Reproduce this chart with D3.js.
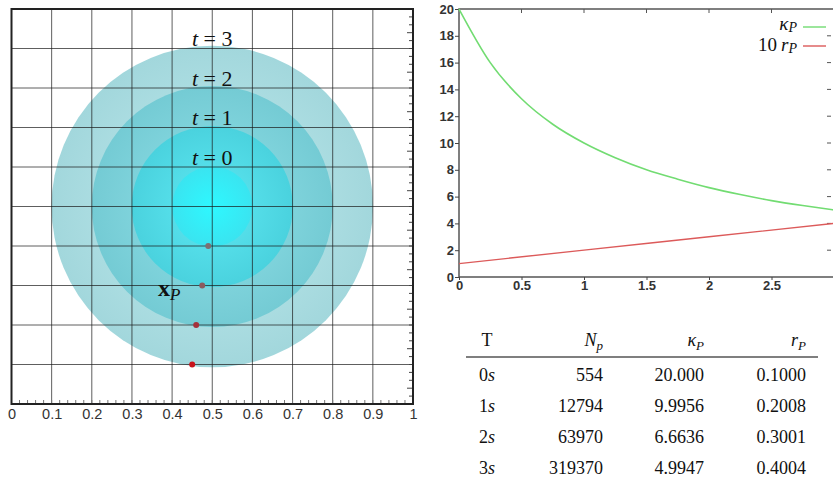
<!DOCTYPE html>
<html>
<head>
<meta charset="utf-8">
<script src="https://cdn.jsdelivr.net/npm/d3@7"></script>
<style>
  body { margin: 0; background: #fff; }
  svg { display: block; }
  .tick text { font-family: "Liberation Sans", Arial, sans-serif; }
  .math { font-family: "Liberation Serif", "DejaVu Serif", serif; fill: #111; }
</style>
</head>
<body>
<div id="container"></div>
<script>
const width = 833;
const height = 480;

// table values (also used for the circle radii)
const times = [0, 1, 2, 3];
const particles = [554, 12794, 63970, 319370];
const kappa = [20.000, 9.9956, 6.6636, 4.9947];
const radius = [0.1000, 0.2008, 0.3001, 0.4004];

// tracked point x_P at each time
const pointX = [0.49, 0.475, 0.46, 0.45];
const pointY = [0.40, 0.30, 0.20, 0.10];
const pointColors = ["#7d7072", "#8c5a5e", "#a4323c", "#c8141c"];

// curves in the right panel
const curveT = [0, 0.25, 0.5, 0.75, 1, 1.25, 1.5, 1.75, 2, 2.25, 2.5, 2.75, 3];
const kappaCurve = [20, 16, 13.3, 11.4, 10, 8.9, 8, 7.3, 6.67, 6.15, 5.7, 5.33, 5.0];
const rCurveT = [0, 1, 2, 3];
const rCurve = [1.0, 2.008, 3.001, 4.004];

const circleFills = [
  ["#2ef8ff", "#3ae4f0"],
  ["#5ee9f3", "#4ad2de"],
  ["#92e1e8", "#74cbd4"],
  ["#c2ebee", "#a2d7dc"]
];

const svg = d3.select("#container")
              .append("svg")
              .attr("width", width)
              .attr("height", height);
const defs = svg.append("defs");

// ---------- left panel ----------
const xL = d3.scaleLinear().domain([0, 1]).range([11.5, 413]);
const yL = d3.scaleLinear().domain([0, 1]).range([404, 9]);
const left = svg.append("g");

circleFills.forEach((c, i) => {
  const g = defs.append("radialGradient").attr("id", "grad" + i);
  g.append("stop").attr("offset", "0%").attr("stop-color", c[0]);
  g.append("stop").attr("offset", "100%").attr("stop-color", c[1]);
});

left.append("g")
    .selectAll("circle")
    .data(radius.map((r, i) => ({r: r, i: i})).reverse())
    .enter()
    .append("circle")
    .attr("cx", xL(0.5))
    .attr("cy", yL(0.5))
    .attr("r", d => xL(d.r) - xL(0))
    .style("fill", d => "url(#grad" + d.i + ")");

const grid = left.append("g").attr("stroke", "#1a1a1a").attr("stroke-opacity", 0.7).attr("stroke-width", 1);
grid.selectAll(".gx")
    .data(xL.ticks(10).slice(1, -1))
    .enter()
    .append("line")
    .attr("x1", d => xL(d)).attr("x2", d => xL(d))
    .attr("y1", yL(1)).attr("y2", yL(0));
grid.selectAll(".gy")
    .data(yL.ticks(10).slice(1, -1))
    .enter()
    .append("line")
    .attr("y1", d => yL(d)).attr("y2", d => yL(d))
    .attr("x1", xL(0)).attr("x2", xL(1));

// minor ticks, bottom (pointing up) and right (pointing left)
left.append("g").attr("stroke", "#777")
    .selectAll("line")
    .data(xL.ticks(50))
    .enter()
    .append("line")
    .attr("x1", d => xL(d)).attr("x2", d => xL(d))
    .attr("y1", yL(0)).attr("y2", yL(0) - 4);
left.append("g").attr("stroke", "#444")
    .selectAll("line")
    .data(yL.ticks(50))
    .enter()
    .append("line")
    .attr("y1", d => yL(d)).attr("y2", d => yL(d))
    .attr("x1", xL(1)).attr("x2", (d, i) => xL(1) - (i % 5 === 2 ? 6 : 4));

left.append("rect")
    .attr("x", xL(0)).attr("y", yL(1))
    .attr("width", xL(1) - xL(0)).attr("height", yL(0) - yL(1))
    .attr("fill", "none").attr("stroke", "#222").attr("stroke-width", 2);

const xAxisL = d3.axisBottom(xL).ticks(10).tickSize(0).tickPadding(5).tickFormat(d3.format(""));
left.append("g")
    .attr("transform", "translate(0," + yL(0) + ")")
    .call(xAxisL)
    .call(g => g.select(".domain").remove())
    .selectAll("text")
    .attr("font-size", 14.5)
    .attr("fill", "#333");

// the tracked points
left.append("g")
    .selectAll("circle")
    .data(pointX)
    .enter()
    .append("circle")
    .attr("cx", d => xL(d))
    .attr("cy", (d, i) => yL(pointY[i]))
    .attr("r", 3)
    .style("fill", (d, i) => pointColors[i]);

// t = labels just above each circle
left.append("g")
    .selectAll("text")
    .data(times)
    .enter()
    .append("text")
    .attr("class", "math")
    .attr("x", xL(0.5))
    .attr("y", (d, i) => yL(0.5 + radius[i]) - 2)
    .attr("text-anchor", "middle")
    .attr("font-size", 22)
    .each(function(d) {
      const t = d3.select(this);
      t.append("tspan").attr("font-style", "italic").text("t");
      t.append("tspan").text(" = " + d);
    });

const xp = left.append("text")
    .attr("class", "math")
    .attr("x", 158).attr("y", 296)
    .attr("font-size", 24);
xp.append("tspan").attr("font-weight", "bold").text("x");
xp.append("tspan").attr("font-style", "italic").attr("font-size", 17).attr("dy", 4).text("P");

// ---------- right panel ----------
const xR = d3.scaleLinear().domain([0, 3]).range([459, 834]);
const yR = d3.scaleLinear().domain([0, 20]).range([277, 9]);
const right = svg.append("g");

right.append("rect")
     .attr("x", xR(0)).attr("y", yR(20))
     .attr("width", xR(3) - xR(0)).attr("height", yR(0) - yR(20))
     .attr("fill", "none").attr("stroke", "#555").attr("stroke-width", 1.5);

right.append("g")
     .attr("transform", "translate(" + xR(0) + ",0)")
     .call(d3.axisLeft(yR).ticks(10).tickSize(4).tickPadding(1))
     .call(g => g.select(".domain").remove())
     .call(g => g.selectAll("line").attr("stroke", "#444"))
     .selectAll("text").attr("font-size", 13).attr("font-weight", "bold").attr("fill", "#333");

right.append("g")
     .attr("transform", "translate(0," + yR(0) + ")")
     .call(d3.axisBottom(xR).tickValues([0, 0.5, 1, 1.5, 2, 2.5]).tickSize(3).tickPadding(1).tickFormat(d3.format("")))
     .call(g => g.select(".domain").remove())
     .call(g => g.selectAll("line").attr("stroke", "#444"))
     .selectAll("text").attr("font-size", 13).attr("font-weight", "bold").attr("fill", "#333");

// inward ticks on top and right
right.append("g").attr("stroke", "#555")
     .selectAll("line")
     .data([0.5, 1, 1.5, 2, 2.5])
     .enter()
     .append("line")
     .attr("x1", d => xR(d)).attr("x2", d => xR(d))
     .attr("y1", yR(20)).attr("y2", yR(20) + 4);
right.append("g").attr("stroke", "#555")
     .selectAll("line")
     .data(yR.ticks(10).slice(1, -1))
     .enter()
     .append("line")
     .attr("y1", d => yR(d)).attr("y2", d => yR(d))
     .attr("x1", xR(3) - 3).attr("x2", xR(3) - 7);

const line = d3.line().x(d => xR(d[0])).y(d => yR(d[1])).curve(d3.curveMonotoneX);
right.append("path")
     .datum(curveT.map((t, i) => [t, kappaCurve[i]]))
     .attr("d", line)
     .attr("fill", "none").attr("stroke", "#72dc72").attr("stroke-width", 1.6);
right.append("path")
     .datum(rCurveT.map((t, i) => [t, rCurve[i]]))
     .attr("d", line)
     .attr("fill", "none").attr("stroke", "#dc5a5a").attr("stroke-width", 1.4);

// legend
const legendItems = [
  {name: "k", color: "#72dc72", y: 27},
  {name: "r", color: "#dc5a5a", y: 46}
];
const legend = right.append("g");
legend.selectAll("line")
      .data(legendItems)
      .enter()
      .append("line")
      .attr("x1", 803).attr("x2", 826)
      .attr("y1", d => d.y).attr("y2", d => d.y)
      .attr("stroke", d => d.color).attr("stroke-width", 1.4);
legend.selectAll("text")
      .data(legendItems)
      .enter()
      .append("text")
      .attr("class", "math")
      .attr("x", 797).attr("y", (d, i) => d.y + (i === 0 ? 3 : 5))
      .attr("text-anchor", "end")
      .attr("font-size", 14)
      .each(function(d) {
        const t = d3.select(this);
        if (d.name === "k") {
          t.append("tspan").attr("font-style", "italic").attr("font-size", 19).text("κ");
        } else {
          t.append("tspan").attr("font-size", 19).text("10");
          t.append("tspan").attr("font-style", "italic").attr("font-size", 19).attr("dx", 4).text("r");
        }
        t.append("tspan").attr("font-style", "italic").attr("font-size", 14).attr("dy", 2).text("P");
      });

// ---------- table ----------
const table = svg.append("g").attr("class", "math").attr("font-size", 18);
const colT = 487, colN = 603, colK = 704, colR = 806;
const headerY = 346, rowY = [381, 412, 443, 474];

const header = table.append("g");
header.append("text").attr("x", colT).attr("y", headerY).attr("text-anchor", "middle").text("T");
const hN = header.append("text").attr("x", colN).attr("y", headerY).attr("text-anchor", "end");
hN.append("tspan").attr("font-style", "italic").text("N");
hN.append("tspan").attr("font-style", "italic").attr("font-size", 13).attr("dy", 4).text("p");
const hK = header.append("text").attr("x", colK).attr("y", headerY).attr("text-anchor", "end");
hK.append("tspan").attr("font-style", "italic").text("κ");
hK.append("tspan").attr("font-style", "italic").attr("font-size", 13).attr("dy", 4).text("P");
const hR = header.append("text").attr("x", colR).attr("y", headerY).attr("text-anchor", "end");
hR.append("tspan").attr("font-style", "italic").text("r");
hR.append("tspan").attr("font-style", "italic").attr("font-size", 13).attr("dy", 4).text("P");

table.append("line")
     .attr("x1", 466).attr("x2", 818)
     .attr("y1", 357).attr("y2", 357)
     .attr("stroke", "#555").attr("stroke-width", 1.5);

const rows = table.selectAll(".row")
     .data(times)
     .enter()
     .append("g");
rows.append("text")
    .attr("x", colT).attr("y", (d, i) => rowY[i])
    .attr("text-anchor", "middle")
    .each(function(d) {
      const t = d3.select(this);
      t.append("tspan").text(d);
      t.append("tspan").attr("font-style", "italic").text("s");
    });
rows.append("text")
    .attr("x", colN).attr("y", (d, i) => rowY[i])
    .attr("text-anchor", "end")
    .text((d, i) => particles[i]);
rows.append("text")
    .attr("x", colK).attr("y", (d, i) => rowY[i])
    .attr("text-anchor", "end")
    .text((d, i) => d3.format(".5r")(kappa[i]));
rows.append("text")
    .attr("x", colR).attr("y", (d, i) => rowY[i])
    .attr("text-anchor", "end")
    .text((d, i) => d3.format(".4f")(radius[i]));
</script>
</body>
</html>
